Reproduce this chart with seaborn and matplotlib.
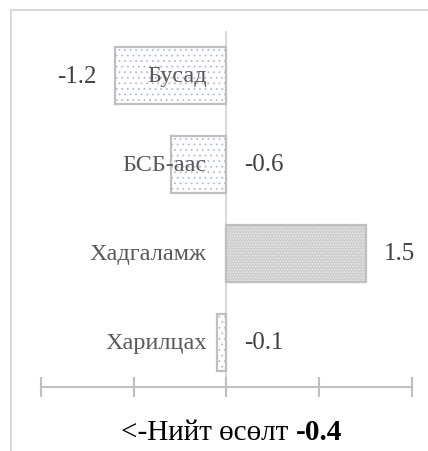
import pandas as pd
import matplotlib.pyplot as plt
import seaborn as sns
from matplotlib.lines import Line2D

# Data
categories = ["Бусад", "БСБ-аас", "Хадгаламж", "Харилцах"]
values = [-1.2, -0.6, 1.5, -0.1]
total = -0.4

df = pd.DataFrame({"cat": categories, "val": values})

sns.set_theme(style="white")
plt.rcParams['font.family'] = ['Liberation Serif', 'DejaVu Serif']
plt.rcParams['hatch.linewidth'] = 0.6

fig = plt.figure(figsize=(4.28, 4.52), dpi=100, facecolor='white')
ax = fig.add_axes([0.0958, 0.1416, 0.8668, 0.7876])

# hatched fill (hatch colour comes from edgecolor), outlines drawn separately
fills = ['white', 'white', '#cfcfcf', 'white']
hatch_cols = ['#b0bccf', '#b0bccf', '#ececec', '#b0bccf']
hatches = ['...', '...', '......', '...']
sns.barplot(data=df, x="val", y="cat", orient="h", width=0.64, color='white',
            linewidth=0, ax=ax)
for bar, fc, hc, h in zip(ax.patches, fills, hatch_cols, hatches):
    bar.set_facecolor(fc)
    bar.set_edgecolor(hc)
    bar.set_hatch(h)
    bar.set_linewidth(0)
sns.barplot(data=df, x="val", y="cat", orient="h", width=0.64, fill=False,
            edgecolor='#bfbfbf', linewidth=1.6, ax=ax)

ax.axvline(0, color='#d9d9d9', lw=1.5, zorder=0)

ax.set_xlim(-2, 2)
ax.set_ylim(3.5, -0.5)
ax.set_xticks([-2, -1, 0, 1, 2])
ax.set_xticklabels([])
ax.set_yticks([])
ax.set_xlabel('')
ax.set_ylabel('')
ax.tick_params(axis='x', direction='inout', length=15, width=1.5, color='#bfbfbf', bottom=True)
for s in ['left', 'right', 'top']:
    ax.spines[s].set_visible(False)
ax.spines['bottom'].set_color('#bfbfbf')
ax.spines['bottom'].set_linewidth(1.5)

# category labels just left of zero
for i, c in enumerate(categories):
    ax.annotate(c, xy=(0, i), xytext=(-20, 0), textcoords='offset pixels',
                ha='right', va='center', fontsize=17.5, color='#595959')

# value labels
for i, v in enumerate(values):
    if v < -1:
        ax.annotate(f"{v}", xy=(v, i), xytext=(-19, 0), textcoords='offset pixels',
                    ha='right', va='center', fontsize=18, color='#404040')
    else:
        ax.annotate(f"{v}", xy=(max(v, 0), i), xytext=(18, 0), textcoords='offset pixels',
                    ha='left', va='center', fontsize=18, color='#404040')

# bottom total text
t1 = fig.text(121 / 428, 1 - 433 / 452, "<-Нийт өсөлт ", ha='left', va='center',
              fontsize=21, color='black')
ax.annotate(f"{total}", xy=(1, 0.5), xycoords=t1, ha='left', va='center',
            fontsize=21, fontweight='bold', color='black')

# outer chart frame (left and top edges)
fig.add_artist(Line2D([11 / 428, 11 / 428], [0, 1 - 11 / 452], color='#d9d9d9', lw=1.5))
fig.add_artist(Line2D([11 / 428, 1], [1 - 11 / 452, 1 - 11 / 452], color='#d9d9d9', lw=1.5))

plt.savefig("out.png", dpi=100, facecolor='white')
